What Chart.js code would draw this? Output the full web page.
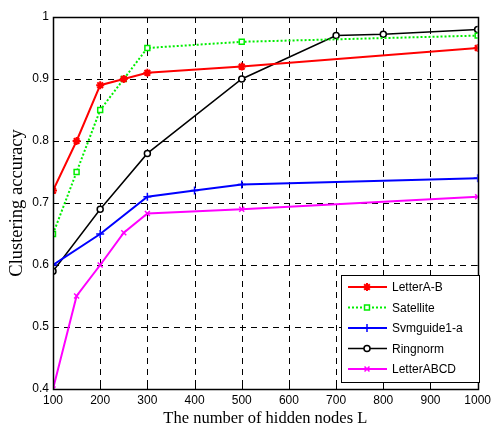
<!DOCTYPE html>
<html>
<head>
<meta charset="utf-8">
<script src="https://cdn.jsdelivr.net/npm/chart.js@4/dist/chart.umd.min.js"></script>
<style>
  body { margin: 0; background: #fff; }
  #wrap { width: 495px; height: 433px; }
</style>
</head>
<body>
<div id="wrap"><canvas id="c" width="495" height="433"></canvas></div>
<script>
// values
const xLetterAB = [100, 150, 200, 250, 300, 500, 1000]
const letterAB = [0.72, 0.80, 0.89, 0.90, 0.91, 0.92, 0.95]
const xSatellite = [100, 150, 200, 250, 300, 500, 1000]
const satellite = [0.65, 0.75, 0.85, 0.90, 0.95, 0.96, 0.97]
const xSvmguide = [100, 200, 300, 400, 500, 1000]
const svmguide = [0.60, 0.65, 0.71, 0.72, 0.73, 0.74]
const xRingnorm = [100, 200, 300, 500, 700, 800, 1000]
const ringnorm = [0.59, 0.69, 0.78, 0.90, 0.97, 0.972, 0.98]
const xLetterABCD = [100, 150, 200, 250, 300, 500, 1000]
const letterABCD = [0.40, 0.55, 0.60, 0.652, 0.683, 0.69, 0.71]

const xTicks = [100, 200, 300, 400, 500, 600, 700, 800, 900, 1000]
const yTicks = [0.4, 0.5, 0.6, 0.7, 0.8, 0.9, 1]

const pts = (xs, ys) => xs.map((x, i) => ({ x: x, y: ys[i] }))

const datasets = [
  { label: 'LetterA-B', data: pts(xLetterAB, letterAB), borderColor: '#ff0000', backgroundColor: '#ff0000',
    borderWidth: 2, pointStyle: 'star', pointRadius: 4, pointBorderWidth: 2 },
  { label: 'Satellite', data: pts(xSatellite, satellite), borderColor: '#00ee00', backgroundColor: '#ffffff',
    borderWidth: 2, borderDash: [2, 2], pointStyle: 'rect', pointRadius: 3.5, pointBorderWidth: 1.5 },
  { label: 'Svmguide1-a', data: pts(xSvmguide, svmguide), borderColor: '#0000ff', backgroundColor: '#0000ff',
    borderWidth: 2, pointStyle: 'cross', pointRadius: 4, pointBorderWidth: 1.5 },
  { label: 'Ringnorm', data: pts(xRingnorm, ringnorm), borderColor: '#000000', backgroundColor: '#ffffff',
    borderWidth: 1.5, pointStyle: 'circle', pointRadius: 3, pointBorderWidth: 1.5 },
  { label: 'LetterABCD', data: pts(xLetterABCD, letterABCD), borderColor: '#ff00ff', backgroundColor: '#ff00ff',
    borderWidth: 2, pointStyle: 'crossRot', pointRadius: 3.5, pointBorderWidth: 1.5 }
]
datasets.forEach(d => { d.showLine = true; d.fill = false; d.tension = 0; d.pointBorderColor = d.borderColor; d.pointBackgroundColor = d.backgroundColor })

// box, inward ticks and legend drawn like matlab
const frame = {
  id: 'frame',
  beforeDatasetsDraw(chart) {
    const { ctx, chartArea: a, scales } = chart
    ctx.save()
    ctx.strokeStyle = '#000'
    ctx.lineWidth = 1
    ctx.setLineDash([6, 5])
    xTicks.forEach(v => {
      const px = Math.round(scales.x.getPixelForValue(v)) + 0.5
      if (v === 100 || v === 1000) return
      ctx.beginPath(); ctx.moveTo(px, a.top); ctx.lineTo(px, a.bottom); ctx.stroke()
    })
    yTicks.forEach(v => {
      const py = Math.round(scales.y.getPixelForValue(v)) + 0.5
      if (v === 0.4 || v === 1) return
      ctx.beginPath(); ctx.moveTo(a.left, py); ctx.lineTo(a.right, py); ctx.stroke()
    })
    ctx.setLineDash([])
    xTicks.forEach(v => {
      const px = Math.round(scales.x.getPixelForValue(v)) + 0.5
      ctx.beginPath(); ctx.moveTo(px, a.bottom); ctx.lineTo(px, a.bottom - 5); ctx.stroke()
      ctx.beginPath(); ctx.moveTo(px, a.top); ctx.lineTo(px, a.top + 5); ctx.stroke()
    })
    yTicks.forEach(v => {
      const py = Math.round(scales.y.getPixelForValue(v)) + 0.5
      ctx.beginPath(); ctx.moveTo(a.left, py); ctx.lineTo(a.left + 5, py); ctx.stroke()
      ctx.beginPath(); ctx.moveTo(a.right, py); ctx.lineTo(a.right - 5, py); ctx.stroke()
    })
    ctx.restore()
  },
  afterDraw(chart) {
    const { ctx, chartArea: a } = chart
    ctx.save()
    ctx.strokeStyle = '#000'
    ctx.lineWidth = 1.5
    ctx.strokeRect(Math.round(a.left) + 0.5, Math.round(a.top) + 0.5, Math.round(a.right - a.left), Math.round(a.bottom - a.top))
    // legend
    const bx = 341, by = 275, bw = 138, bh = 107
    ctx.fillStyle = '#fff'
    ctx.fillRect(bx, by, bw, bh)
    ctx.lineWidth = 1
    ctx.strokeRect(bx + 0.5, by + 0.5, bw, bh)
    ctx.font = '12px "Liberation Sans", Arial, sans-serif'
    ctx.textBaseline = 'middle'
    chart.data.datasets.forEach((d, i) => {
      const y = by + 12 + i * 20.5
      ctx.strokeStyle = d.borderColor
      ctx.lineWidth = d.borderWidth
      ctx.setLineDash(d.borderDash || [])
      ctx.beginPath(); ctx.moveTo(bx + 7, y); ctx.lineTo(bx + 46, y); ctx.stroke()
      ctx.setLineDash([])
      ctx.fillStyle = d.backgroundColor
      ctx.lineWidth = d.pointBorderWidth
      Chart.helpers.drawPoint(ctx, { pointStyle: d.pointStyle, radius: d.pointRadius, borderWidth: d.pointBorderWidth, rotation: 0 }, bx + 26, y)
      ctx.fillStyle = '#000'
      ctx.fillText(d.label, bx + 51, y + 1)
    })
    ctx.restore()
  }
}

new Chart(document.getElementById('c'), {
  type: 'scatter',
  data: { datasets: datasets },
  plugins: [frame],
  options: {
    responsive: false,
    animation: false,
    layout: { padding: { top: 17, right: 17, left: 2, bottom: 0 } },
    plugins: { legend: { display: false }, tooltip: { enabled: false } },
    scales: {
      x: {
        type: 'linear', min: 100, max: 1000,
        afterBuildTicks: s => { s.ticks = xTicks.map(v => ({ value: v })) },
        afterFit: s => { s.height = 44 },
        grid: { display: false, tickLength: 0 },
        border: { display: false },
        ticks: { color: '#000', padding: 4, maxRotation: 0, callback: v => String(v),
          font: { family: '"Liberation Sans", Arial, sans-serif', size: 12 } },
        title: { display: true, text: 'The number of hidden nodes L', color: '#000', padding: { top: 4 },
          font: { family: '"Liberation Serif", "Times New Roman", serif', size: 16.5 } }
      },
      y: {
        min: 0.4, max: 1,
        afterBuildTicks: s => { s.ticks = yTicks.map(v => ({ value: v })) },
        afterFit: s => { s.width = 51 },
        grid: { display: false, tickLength: 0 },
        border: { display: false },
        ticks: { color: '#000', padding: 4, callback: v => String(v), font: { family: '"Liberation Sans", Arial, sans-serif', size: 12 } },
        title: { display: true, text: 'Clustering accuracy', color: '#000', padding: { top: 4, bottom: 0 },
          font: { family: '"Liberation Serif", "Times New Roman", serif', size: 18.5 } }
      }
    }
  }
})
</script>
</body>
</html>
